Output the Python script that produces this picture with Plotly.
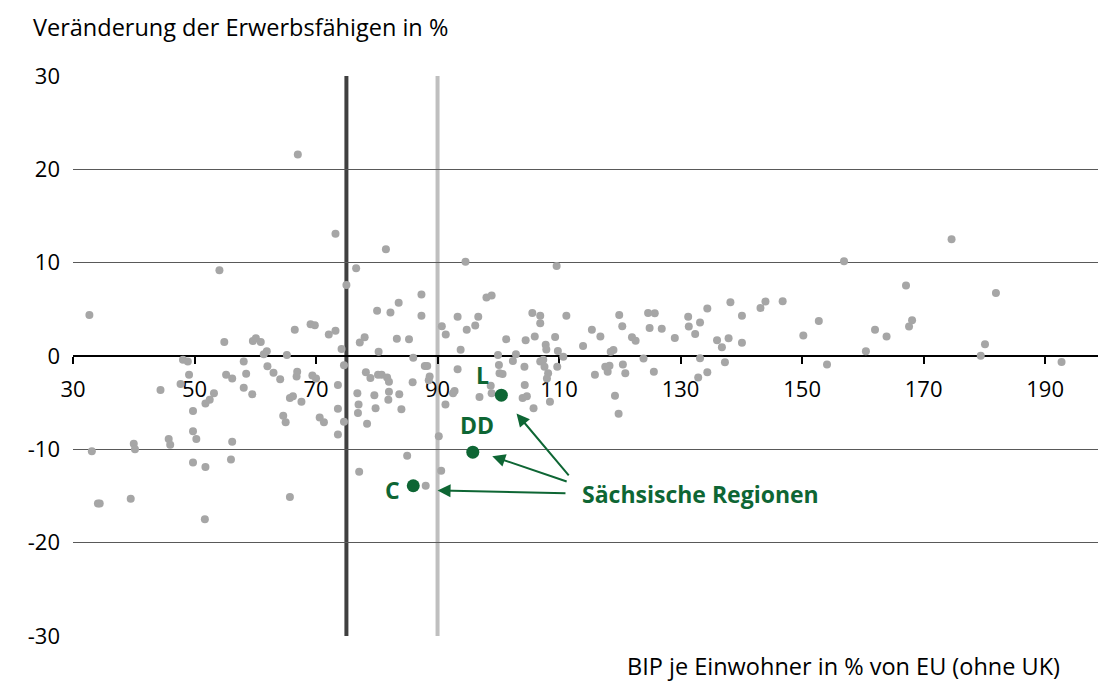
import plotly.graph_objects as go

# ---- data ----
gdp = [
    32.7, 67.0, 73.2, 54.1, 76.6, 75.0, 69.1, 69.8, 66.5, 72.1, 73.2, 54.9, 59.6, 60.1, 60.9,
    74.2, 61.4, 61.9, 65.2, 48.1, 48.9, 58.1, 74.6, 49.1, 55.2, 56.2, 58.5, 62.0, 63.0, 64.1,
    66.9, 66.8, 69.4, 70.0, 44.4, 47.7, 58.1, 59.5, 53.2, 52.5, 51.8, 49.75, 73.6, 76.8, 77.0,
    76.9, 74.6, 73.6, 73.6, 70.6, 71.3, 67.6, 65.7, 66.2, 64.6, 65.0, 49.75, 50.3, 45.75, 46.0,
    40.0, 40.2, 33.1, 56.2, 56.0, 49.75, 51.8, 34.1, 34.4, 39.5, 65.7, 51.7, 77.1, 78.4,
    81.5, 94.6, 109.6, 87.35, 83.6, 80.05, 82.25, 87.35, 98.05, 98.9, 90.7, 91.35, 93.3, 96.7,
    96.2, 94.8, 105.6, 106.9, 106.9, 111.2, 119.9, 120.4, 115.4, 116.8, 113.95, 101.3, 104.5,
    106.0, 109.35, 107.8, 107.9, 109.8, 118.95, 118.5, 93.8, 99.95, 102.9, 102.4, 106.9, 107.4,
    110.7, 109.7, 107.6, 108.2, 108.0, 104.3, 100.1, 100.2, 100.7, 93.3, 87.9, 88.3, 86.0, 85.3,
    83.3, 77.2, 78.0, 80.3, 78.2, 78.95, 80.2, 80.8, 81.7, 82.0, 85.9, 88.7, 88.55, 79.6, 82.0,
    81.9, 83.7, 92.8, 92.55, 91.3, 96.9, 98.75, 98.9, 104.35, 104.0, 104.7, 108.5, 105.8, 115.9,
    117.6, 118.3, 118.0, 120.5, 120.9, 119.2, 119.8, 84.05, 79.8, 85.0, 88.05, 90.2, 90.6,
    156.9, 122.0, 122.6, 124.65, 125.75, 124.9, 126.9, 129.05, 131.25, 131.35, 132.4, 133.2,
    134.4, 138.2, 140.1, 136.0, 136.8, 137.9, 140.1, 143.15, 143.97, 146.8, 150.2, 152.75,
    154.1, 123.9, 125.6, 133.2, 132.9, 134.4, 137.3, 174.6, 167.1, 181.9, 162.0, 163.9, 168.1,
    167.6, 160.5, 180.1, 179.4, 192.7,
]
change = [
    4.4, 21.6, 13.1, 9.2, 9.4, 7.6, 3.4, 3.3, 2.8, 2.3, 2.7, 1.5, 1.6, 1.9, 1.5,
    0.75, 0.2, 0.5, 0.1, -0.4, -0.6, -0.6, -1.0, -2.0, -2.0, -2.4, -1.9, -1.1, -1.8, -2.5,
    -1.7, -2.2, -2.1, -2.4, -3.65, -3.0, -3.4, -4.1, -4.0, -4.7, -5.1, -5.9, -3.1, -4.0, -5.2,
    -6.1, -7.05, -5.65, -8.4, -6.6, -7.1, -4.9, -4.5, -4.3, -6.4, -7.1, -8.05, -8.9, -8.9, -9.5,
    -9.4, -10.0, -10.2, -9.2, -11.1, -11.4, -11.9, -15.8, -15.8, -15.3, -15.1, -17.5, -12.4, -7.26,
    11.45, 10.1, 9.65, 6.6, 5.7, 4.86, 4.65, 4.3, 6.26, 6.47, 3.2, 2.3, 4.2, 4.2,
    3.26, 2.8, 4.6, 4.3, 3.5, 4.3, 4.4, 3.2, 2.8, 2.1, 1.07, 1.8, 1.7,
    2.1, 2.04, 1.2, 0.7, 0.54, 0.64, 0.46, 0.68, 0.1, 0.2, -0.54, -0.6, -0.4,
    -0.07, -1.15, -1.15, -1.86, -2.4, -1.15, -0.97, -1.86, -1.93, -1.43, -1.07, -1.07, -0.18, 1.8,
    1.86, 1.45, 2.0, 0.46, -1.75, -2.36, -2.0, -2.0, -2.3, -2.76, -2.8, -2.2, -2.6, -4.2, -3.83,
    -4.7, -4.1, -3.76, -4.0, -5.2, -4.4, -3.2, -4.0, -3.1, -4.5, -4.3, -4.9, -5.6, -2.0,
    -1.15, -1.04, -1.7, -0.9, -1.86, -4.25, -6.2, -5.7, -5.6, -10.7, -13.9, -8.6, -12.3,
    10.16, 2.0, 1.64, 4.6, 4.58, 3.0, 2.93, 1.93, 4.2, 3.15, 2.36, 3.6,
    5.1, 5.76, 4.3, 1.7, 0.93, 1.9, 1.43, 5.15, 5.83, 5.87, 2.2, 3.75,
    -0.9, -0.28, -1.68, -0.25, -2.3, -1.75, -0.68, 12.5, 7.55, 6.76, 2.8, 2.1, 3.83,
    3.15, 0.5, 1.25, 0.03, -0.64,
]

saxony_names = ["L", "DD", "C"]
saxony_gdp = [100.5, 95.8, 86.0]
saxony_change = [-4.2, -10.3, -13.9]
saxony_label_shift = [(-19, 20), (4, 27), (-21, -4)]

# arrows: head (x, y) and tail (ax, ay) in data units
arrow_heads = [(103.0, -6.15), (99.0, -10.73), (90.0, -14.4)]
arrow_tails = [(111.8, -12.95), (111.5, -13.5), (111.3, -14.7)]
group_label = "Sächsische Regionen"
group_label_pos = (113.4, -14.8)

ref_lines = [75, 90]
ref_colors = ["#404040", "#bfbfbf"]

x_ticks = list(range(30, 191, 20))
y_ticks = list(range(-30, 31, 10))

title_y = "Veränderung der Erwerbsfähigen in %"
title_x = "BIP je Einwohner in % von EU (ohne UK)"

GREEN = "#0e6634"
FONT = "'Open Sans', sans-serif"
FS_TEXT = 23.5
FS_TICK = 22
FS_LABEL = 23

fig = go.Figure()

fig.add_trace(go.Scatter(
    x=gdp, y=change, mode="markers",
    marker=dict(size=8, color="#a6a6a6", line=dict(width=0)),
    hoverinfo="x+y", showlegend=False,
))
fig.add_trace(go.Scatter(
    x=saxony_gdp, y=saxony_change, mode="markers",
    marker=dict(size=13, color=GREEN, line=dict(width=0)),
    showlegend=False,
))

shapes = []
for xv, col in zip(ref_lines, ref_colors):
    shapes.append(dict(type="line", xref="x", yref="y", x0=xv, x1=xv, y0=-30, y1=30,
                       line=dict(color=col, width=4), layer="below"))

annotations = []
for name, xv, yv, (dx, dy) in zip(saxony_names, saxony_gdp, saxony_change, saxony_label_shift):
    annotations.append(dict(x=xv, y=yv, xref="x", yref="y", text=f"<b>{name}</b>",
                            showarrow=False, xshift=dx, yshift=dy,
                            font=dict(family=FONT, size=FS_LABEL, color=GREEN)))
for (hx, hy), (tx, ty) in zip(arrow_heads, arrow_tails):
    annotations.append(dict(x=hx, y=hy, ax=tx, ay=ty, xref="x", yref="y", axref="x", ayref="y",
                            text="", showarrow=True, arrowhead=2, arrowsize=1.3,
                            arrowwidth=2, arrowcolor=GREEN, standoff=0, startstandoff=0))
annotations.append(dict(x=group_label_pos[0], y=group_label_pos[1], xref="x", yref="y",
                        text=f"<b>{group_label}</b>", showarrow=False,
                        xanchor="left", yanchor="middle",
                        font=dict(family=FONT, size=FS_LABEL, color=GREEN)))
annotations.append(dict(x=1, y=0, xref="paper", yref="paper", xanchor="right", yanchor="middle",
                        xshift=-36, yshift=-30, text=title_x, showarrow=False,
                        font=dict(family=FONT, size=FS_TEXT, color="#000000")))

fig.update_layout(
    width=1099, height=682,
    margin=dict(l=73, r=1, t=76, b=46, autoexpand=False),
    paper_bgcolor="white", plot_bgcolor="white",
    font=dict(family=FONT, size=FS_TICK, color="#000000"),
    title=dict(text=title_y, xref="container", yref="container", x=0.03, y=0.959,
               xanchor="left", yanchor="middle",
               font=dict(family=FONT, size=FS_TEXT, color="#000000")),
    shapes=shapes, annotations=annotations,
    xaxis=dict(range=[30, 198.7], tickvals=x_ticks, ticktext=[str(v) for v in x_ticks],
               showgrid=False, zeroline=False, showline=True, linecolor="#000000", linewidth=2,
               ticks="outside", ticklen=7, tickwidth=2, tickcolor="#000000",
               anchor="free", position=0.5, layer="below traces", automargin=False,
               ticklabelstandoff=7, tickfont=dict(family=FONT, size=FS_TICK, color="#000000")),
    yaxis=dict(range=[-30, 30], tickvals=y_ticks, ticktext=[str(v) for v in y_ticks],
               showgrid=True, gridcolor="#595959", gridwidth=1, zeroline=False, automargin=False,
               showline=False, ticks="", ticklabelstandoff=12,
               tickfont=dict(family=FONT, size=FS_TICK, color="#000000")),
)

fig.write_html("out.html", config={"displayModeBar": False},
               post_script="document.body.style.margin='0px';")
